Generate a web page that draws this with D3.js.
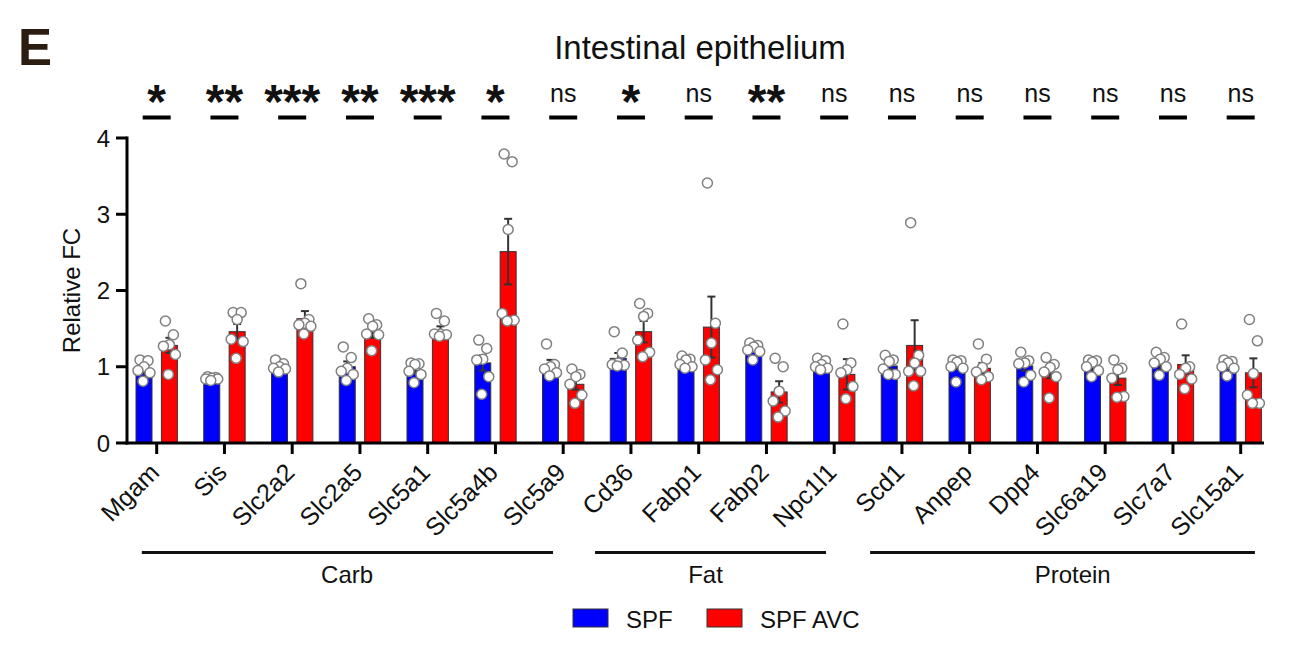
<!DOCTYPE html>
<html>
<head>
<meta charset="utf-8">
<script src="https://cdn.jsdelivr.net/npm/d3@7"></script>
<style>
  body { margin: 0; background: #fff; }
  text { font-family: "Liberation Sans", Arial, sans-serif; fill: #111; }
</style>
</head>
<body>
<script>
// Data
var genes = ["Mgam", "Sis", "Slc2a2", "Slc2a5", "Slc5a1", "Slc5a4b", "Slc5a9",
             "Cd36", "Fabp1", "Fabp2", "Npc1l1",
             "Scd1", "Anpep", "Dpp4", "Slc6a19", "Slc7a7", "Slc15a1"];

var spfMean = [0.95, 0.85, 1.00, 1.00, 0.95, 1.05, 1.02, 1.11, 1.05, 1.25, 1.04, 1.01, 1.01, 1.01, 1.00, 1.01, 1.00];
var spfSem  = [0.04, 0.01, 0.02, 0.07, 0.04, 0.10, 0.07, 0.07, 0.03, 0.03, 0.02, 0.04, 0.04, 0.06, 0.04, 0.05, 0.03];
var avcMean = [1.28, 1.46, 1.63, 1.46, 1.46, 2.51, 0.77, 1.46, 1.52, 0.67, 0.90, 1.28, 0.98, 0.93, 0.85, 1.03, 0.92];
var avcSem  = [0.10, 0.10, 0.10, 0.08, 0.07, 0.43, 0.07, 0.14, 0.40, 0.14, 0.20, 0.33, 0.07, 0.08, 0.09, 0.12, 0.19];

var spfPoints = [
  [1.09, 1.08, 1.00, 0.95, 0.92, 0.81],
  [0.87, 0.86, 0.85, 0.84, 0.84, 0.82],
  [1.09, 1.04, 1.00, 0.98, 0.97, 0.93],
  [1.26, 1.12, 0.98, 0.94, 0.90, 0.82],
  [1.05, 1.04, 1.03, 0.94, 0.90, 0.79],
  [1.35, 1.24, 1.10, 1.09, 0.87, 0.64],
  [1.30, 1.03, 1.00, 0.97, 0.92, 0.88],
  [1.46, 1.18, 1.05, 1.03, 1.02, 1.01],
  [1.14, 1.10, 1.09, 1.03, 1.00, 0.98],
  [1.31, 1.28, 1.26, 1.22, 1.20, 1.09],
  [1.11, 1.08, 1.03, 1.00, 0.98, 0.96],
  [1.15, 1.09, 1.07, 0.97, 0.90, 0.90],
  [1.09, 1.08, 1.06, 1.00, 0.98, 0.80],
  [1.19, 1.08, 1.05, 1.04, 0.89, 0.80],
  [1.09, 1.08, 1.06, 1.00, 0.95, 0.87],
  [1.19, 1.12, 1.10, 1.05, 1.00, 0.89],
  [1.09, 1.07, 1.05, 1.00, 0.98, 0.88]
];
var avcPoints = [
  [1.60, 1.42, 1.29, 1.27, 1.16, 0.90],
  [1.71, 1.71, 1.62, 1.36, 1.33, 1.11],
  [2.09, 1.62, 1.57, 1.55, 1.53, 1.43],
  [1.63, 1.55, 1.53, 1.43, 1.42, 1.21],
  [1.70, 1.60, 1.43, 1.43, 1.42, 1.40],
  [3.79, 3.69, 2.80, 1.70, 1.61, 1.60],
  [0.97, 0.90, 0.87, 0.77, 0.63, 0.52],
  [1.83, 1.70, 1.66, 1.35, 1.19, 1.13],
  [3.41, 1.57, 1.31, 1.09, 0.96, 0.83],
  [1.11, 1.00, 0.68, 0.55, 0.42, 0.34],
  [1.56, 1.05, 0.96, 0.92, 0.74, 0.58],
  [2.89, 1.15, 1.05, 0.94, 0.94, 0.75],
  [1.30, 1.10, 0.99, 0.93, 0.87, 0.83],
  [1.12, 1.03, 0.99, 0.93, 0.87, 0.59],
  [1.09, 0.98, 0.96, 0.85, 0.61, 0.60],
  [1.56, 1.00, 0.98, 0.90, 0.84, 0.71],
  [1.62, 1.34, 0.91, 0.63, 0.52, 0.52]
];

var signif = ["*", "**", "***", "**", "***", "*", "ns", "*", "ns", "**", "ns", "ns", "ns", "ns", "ns", "ns", "ns"];

// nutrient groups, as fractional gene positions
var groupNames = ["Carb", "Fat", "Protein"];
var groupFrom  = [-0.22, 6.47, 10.53];
var groupTo    = [5.85, 9.88, 16.21];
var groupLabelAt = [2.81, 8.10, 13.52];

var yTicks = [0, 1, 2, 3, 4];
var seriesNames = ["SPF", "SPF AVC"];
var seriesColors = ["#0000ff", "#ff0000"];

// Settings
var w = 1295, h = 648;
var axisLeft = 127, axisRight = 1264, y0px = 443, y4px = 138;
var barW = 16, barOff = 12.7;
var jitter = [-4, 4, 0, -6, 6, -1];

var svg = d3.select("body").append("svg")
  .attr("width", w).attr("height", h);

var x = d3.scalePoint().domain(genes).range([156.7, 1240.7]);
var xi = d3.scaleLinear().domain([0, genes.length - 1]).range([156.7, 1240.7]);
var y = d3.scaleLinear().domain([0, 4]).range([y0px, y4px]);

// panel letter + title
svg.append("text").attr("x", 18).attr("y", 65)
  .style("font-size", "51px").style("font-weight", "bold").style("fill", "#2b1d12")
  .text("E");
svg.append("text").attr("x", 700).attr("y", 58.5).attr("text-anchor", "middle")
  .style("font-size", "33px").text("Intestinal epithelium");

// bars
var series = [
  { mean: spfMean, sem: spfSem, pts: spfPoints, off: -barOff, color: seriesColors[0] },
  { mean: avcMean, sem: avcSem, pts: avcPoints, off: barOff, color: seriesColors[1] }
];

series.forEach(function(s) {
  var g = svg.append("g");
  g.selectAll("rect").data(genes).enter().append("rect")
    .attr("x", function(d) { return x(d) + s.off - barW / 2; })
    .attr("y", function(d, i) { return y(s.mean[i]); })
    .attr("width", barW)
    .attr("height", function(d, i) { return y(0) - y(s.mean[i]); })
    .attr("fill", s.color)
    .attr("stroke", "#333").attr("stroke-width", 1);

  // error bars (mean +/- SEM)
  var eb = g.selectAll("g.err").data(genes).enter().append("g")
    .attr("stroke", "#333").attr("stroke-width", 2);
  eb.append("line")
    .attr("x1", function(d) { return x(d) + s.off; })
    .attr("x2", function(d) { return x(d) + s.off; })
    .attr("y1", function(d, i) { return y(s.mean[i] - s.sem[i]); })
    .attr("y2", function(d, i) { return y(s.mean[i] + s.sem[i]); });
  eb.append("line")
    .attr("x1", function(d) { return x(d) + s.off - 4; })
    .attr("x2", function(d) { return x(d) + s.off + 4; })
    .attr("y1", function(d, i) { return y(s.mean[i] + s.sem[i]); })
    .attr("y2", function(d, i) { return y(s.mean[i] + s.sem[i]); });
  eb.append("line")
    .attr("x1", function(d) { return x(d) + s.off - 4; })
    .attr("x2", function(d) { return x(d) + s.off + 4; })
    .attr("y1", function(d, i) { return y(s.mean[i] - s.sem[i]); })
    .attr("y2", function(d, i) { return y(s.mean[i] - s.sem[i]); });
});

// individual points on top
series.forEach(function(s) {
  genes.forEach(function(gene, i) {
    svg.append("g").selectAll("circle").data(s.pts[i]).enter().append("circle")
      .attr("cx", function(d, j) { return x(gene) + s.off + jitter[j]; })
      .attr("cy", function(d) { return y(d); })
      .attr("r", 5)
      .attr("fill", "#fff")
      .attr("stroke", "#808080").attr("stroke-width", 1.5);
  });
});

// y axis
svg.append("line").attr("x1", axisLeft).attr("x2", axisLeft)
  .attr("y1", y(4) - 1.5).attr("y2", y0px + 1.5)
  .attr("stroke", "#000").attr("stroke-width", 3);
svg.selectAll("line.ytick").data(yTicks).enter().append("line")
  .attr("x1", axisLeft - 11).attr("x2", axisLeft)
  .attr("y1", function(d) { return y(d); }).attr("y2", function(d) { return y(d); })
  .attr("stroke", "#000").attr("stroke-width", 3);
svg.selectAll("text.ylab").data(yTicks).enter().append("text")
  .attr("x", 110).attr("y", function(d) { return y(d) + 8.5; })
  .attr("text-anchor", "end").style("font-size", "24px")
  .text(function(d) { return d; });
svg.append("text")
  .attr("transform", "translate(80," + ((y0px + y4px) / 2) + ") rotate(-90)")
  .attr("text-anchor", "middle").style("font-size", "24px")
  .text("Relative FC");

// x axis
svg.append("line").attr("x1", axisLeft - 1.5).attr("x2", axisRight)
  .attr("y1", y0px).attr("y2", y0px)
  .attr("stroke", "#000").attr("stroke-width", 3);
svg.selectAll("line.xtick").data(genes).enter().append("line")
  .attr("x1", function(d) { return x(d); }).attr("x2", function(d) { return x(d); })
  .attr("y1", y0px).attr("y2", y0px + 11)
  .attr("stroke", "#000").attr("stroke-width", 3);
svg.selectAll("text.xlab").data(genes).enter().append("text")
  .attr("transform", function(d) { return "translate(" + (x(d) + 4) + "," + (y0px + 31) + ") rotate(-45)"; })
  .attr("text-anchor", "end").style("font-size", "25px")
  .text(function(d) { return d; });

// significance marks
var sig = svg.append("g");
sig.selectAll("line").data(genes).enter().append("line")
  .attr("x1", function(d) { return x(d) - 14; }).attr("x2", function(d) { return x(d) + 14; })
  .attr("y1", 117.5).attr("y2", 117.5)
  .attr("stroke", "#000").attr("stroke-width", 4);
sig.selectAll("text").data(genes).enter().append("text")
  .attr("x", function(d) { return x(d); })
  .attr("y", function(d, i) { return signif[i] === "ns" ? 101.5 : 118; })
  .attr("text-anchor", "middle")
  .style("font-size", function(d, i) { return signif[i] === "ns" ? "25px" : "48px"; })
  .style("font-weight", function(d, i) { return signif[i] === "ns" ? "normal" : "bold"; })
  .text(function(d, i) { return signif[i]; });

// group brackets
var grp = svg.append("g");
grp.selectAll("line").data(groupNames).enter().append("line")
  .attr("x1", function(d, i) { return xi(groupFrom[i]); })
  .attr("x2", function(d, i) { return xi(groupTo[i]); })
  .attr("y1", 552.5).attr("y2", 552.5)
  .attr("stroke", "#111").attr("stroke-width", 3);
grp.selectAll("text").data(groupNames).enter().append("text")
  .attr("x", function(d, i) { return xi(groupLabelAt[i]); })
  .attr("y", 583).attr("text-anchor", "middle").style("font-size", "24px")
  .text(function(d) { return d; });

// legend
var legX = [573, 707];
var leg = svg.append("g");
leg.selectAll("rect").data(seriesNames).enter().append("rect")
  .attr("x", function(d, i) { return legX[i]; }).attr("y", 609)
  .attr("width", 35).attr("height", 18)
  .attr("fill", function(d, i) { return seriesColors[i]; })
  .attr("stroke", "#333").attr("stroke-width", 1);
leg.selectAll("text").data(seriesNames).enter().append("text")
  .attr("x", function(d, i) { return legX[i] + 53; }).attr("y", 627.5)
  .style("font-size", "24px")
  .text(function(d) { return d; });
</script>
</body>
</html>
